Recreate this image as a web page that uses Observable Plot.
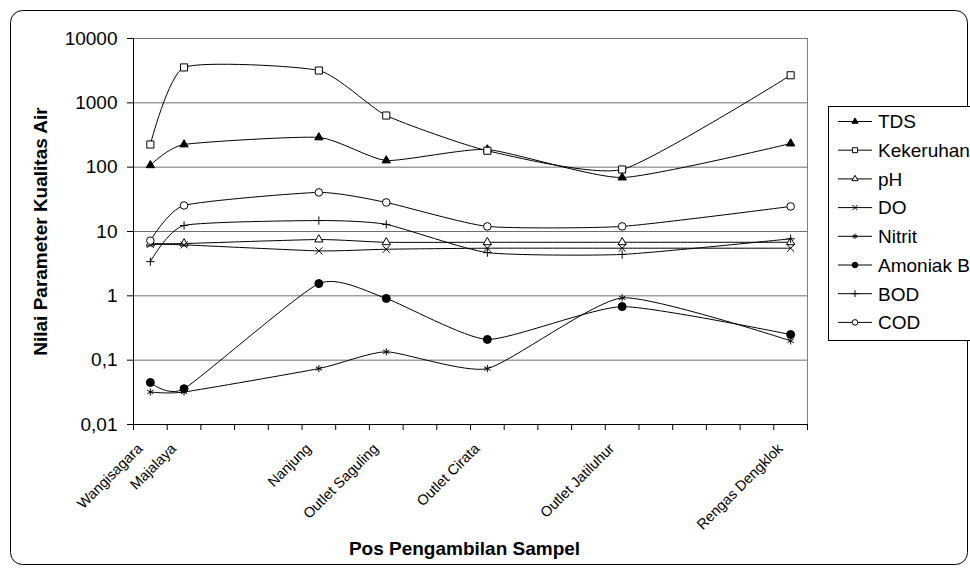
<!DOCTYPE html>
<html>
<head>
<meta charset="utf-8">
<script src="https://cdn.jsdelivr.net/npm/d3@7"></script>
<script src="https://cdn.jsdelivr.net/npm/@observablehq/plot@0.6"></script>
<style>
  html, body { margin: 0; padding: 0; background: #fff; }
  #chart { width: 970px; height: 568px; overflow: hidden; }
</style>
</head>
<body>
<div id="chart"></div>
<script>
// ---- data ----
const categoryCount = 20;
const stations = ["Wangisagara", "Majalaya", "Nanjung", "Outlet Saguling", "Outlet Cirata", "Outlet Jatiluhur", "Rengas Dengklok"];
const stationCategory = [1, 2, 6, 8, 11, 15, 20];   // which of the 20 category slots holds each station
const yTicks = [0.01, 0.1, 1, 10, 100, 1000, 10000];
const yTickLabels = ["0,01", "0,1", "1", "10", "100", "1000", "10000"];
const seriesNames = ["TDS", "Kekeruhan", "pH", "DO", "Nitrit", "Amoniak B", "BOD", "COD"];

const TDS       = [107, 225, 290, 127, 188, 69, 233];
const Kekeruhan = [225, 3550, 3180, 635, 180, 92, 2680];
const pH        = [6.5, 6.5, 7.5, 6.8, 6.8, 6.8, 6.8];
const DO        = [6.3, 6.2, 5.0, 5.3, 5.5, 5.5, 5.5];
const Nitrit    = [0.032, 0.032, 0.074, 0.135, 0.074, 0.93, 0.2];
const AmoniakB  = [0.045, 0.036, 1.55, 0.91, 0.21, 0.68, 0.25];
const BOD       = [3.4, 12.4, 14.8, 12.9, 4.7, 4.4, 7.7];
const COD       = [7.2, 25.4, 40.5, 28.3, 12.0, 12.0, 24.5];
const seriesValues = [TDS, Kekeruhan, pH, DO, Nitrit, AmoniakB, BOD, COD];

const xTitle = "Pos Pengambilan Sampel";
const yTitle = "Nilai Parameter Kualitas Air";

// ---- styles ----
const markerStyle = {
  "TDS":       {symbol: "triangle", fill: "black", r: 3.1, lr: 2.3},
  "Kekeruhan": {symbol: "square",   fill: "white", r: 4.0, lr: 2.8},
  "pH":        {symbol: "triangle", fill: "white", r: 3.1, lr: 2.3},
  "DO":        {symbol: "times",    fill: "none",  r: 3.3, lr: 2.5},
  "Nitrit":    {symbol: "asterisk", fill: "none",  r: 3.4, lr: 2.5},
  "Amoniak B": {symbol: "circle",   fill: "black", r: 4.0, lr: 2.8},
  "BOD":       {symbol: "plus",     fill: "none",  r: 2.8, lr: 2.3},
  "COD":       {symbol: "circle",   fill: "white", r: 3.8, lr: 2.8}
};

const rows = seriesNames.flatMap((s, k) =>
  stations.map((st, i) => ({series: s, station: st, cat: stationCategory[i], value: seriesValues[k][i]})));

const xPos = d => d.cat - 0.5;
const smooth = d3.curveCardinal.tension(0.45);

const seriesMarks = seriesNames.flatMap(s => {
  const data = rows.filter(d => d.series === s);
  const st = markerStyle[s];
  return [
    Plot.line(data, {x: xPos, y: "value", curve: smooth, stroke: "black", strokeWidth: 1}),
    Plot.dot(data, {x: xPos, y: "value", symbol: st.symbol, r: st.r, fill: st.fill, stroke: "black", strokeWidth: 1})
  ];
});

const svg = Plot.plot({
  width: 970,
  height: 568,
  marginLeft: 133,
  marginRight: 163,
  marginTop: 38,
  marginBottom: 144,
  style: {fontFamily: "'Liberation Sans', Arial, sans-serif", fontSize: "19px", background: "white", color: "black", overflow: "visible"},
  x: {domain: [0, categoryCount], axis: null},
  y: {type: "log", domain: [yTicks[0], yTicks[yTicks.length - 1]], axis: null},
  marks: [
    Plot.gridY(yTicks, {stroke: "#707070", strokeOpacity: 1, strokeWidth: 1}),
    Plot.ruleX([categoryCount], {stroke: "#808080", strokeWidth: 1}),
    Plot.axisY(yTicks, {tickSize: 6, tickPadding: 10, fontSize: 19, label: null,
      tickFormat: d => yTickLabels[yTicks.indexOf(d)], stroke: "black"}),
    Plot.axisX(d3.range(0, categoryCount + 1), {tickSize: 6, tickFormat: () => "", label: null, stroke: "black"}),
    Plot.ruleX([0], {stroke: "black"}),
    Plot.ruleY([yTicks[0]], {stroke: "black"}),
    ...seriesMarks,
    Plot.text(stations, {x: (d, i) => stationCategory[i] - 0.5, frameAnchor: "bottom", rotate: -45,
      textAnchor: "end", lineAnchor: "bottom", dx: -7, dy: 25, fontSize: 14.5, fill: "black"}),
    Plot.text([yTitle], {frameAnchor: "left", textAnchor: "middle", dx: -93, rotate: -90, fontWeight: "bold", fontSize: 19, fill: "black"}),
    Plot.text([xTitle], {frameAnchor: "bottom", textAnchor: "middle", dx: -6, dy: 130, lineAnchor: "bottom", fontWeight: "bold", fontSize: 19, fill: "black"})
  ]
});

document.getElementById("chart").appendChild(svg);

// outer chart border
const s = d3.select(svg);
s.append("rect").attr("x", 10.5).attr("y", 10.5).attr("width", 957).attr("height", 554)
  .attr("rx", 12).attr("ry", 12).attr("fill", "none").attr("stroke", "black").attr("stroke-width", 1);

// legend
const lg = s.append("g").attr("text-anchor", "start");
lg.append("rect").attr("x", 828.5).attr("y", 106.5).attr("width", 200).attr("height", 234)
  .attr("fill", "white").attr("stroke", "black").attr("stroke-width", 1);
const d3sym = {triangle: d3.symbolTriangle, square: d3.symbolSquare, times: d3.symbolTimes,
  asterisk: d3.symbolAsterisk, circle: d3.symbolCircle, plus: d3.symbolPlus};
seriesNames.forEach((name, k) => {
  const y = 121.5 + k * 28.7;
  const st = markerStyle[name];
  lg.append("line").attr("x1", 838).attr("x2", 872).attr("y1", y).attr("y2", y)
    .attr("stroke", "black").attr("stroke-width", 1);
  lg.append("path").attr("transform", `translate(855,${y})`)
    .attr("d", d3.symbol(d3sym[st.symbol], Math.PI * st.lr * st.lr)())
    .attr("fill", st.fill).attr("stroke", "black").attr("stroke-width", 1);
  lg.append("text").attr("x", 878).attr("y", y).attr("dy", "0.36em").attr("text-anchor", "start")
    .attr("font-size", 19).attr("fill", "black").text(name);
});
</script>
</body>
</html>
